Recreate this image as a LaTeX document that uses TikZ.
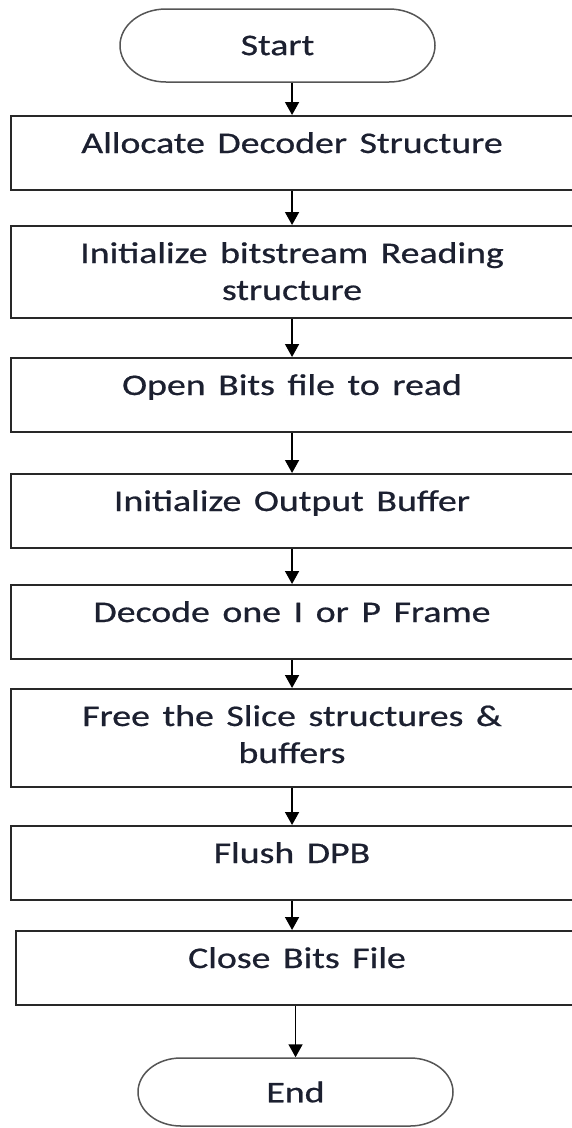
\documentclass[tikz,border=0pt]{standalone}
\usepackage{fontspec}
\setmainfont{Carlito}[FakeBold=0.6]
\usetikzlibrary{shapes.misc,arrows.meta}
\definecolor{inkblue}{RGB}{28,32,48}
\definecolor{edgegray}{RGB}{40,40,40}
\definecolor{ovalgray}{RGB}{85,85,85}
\tikzset{
  stepbox/.style={draw=edgegray, line width=2pt, rectangle, inner xsep=0pt, inner ysep=0pt,
    text width=446pt, align=center, text height=37pt, text depth=37pt, anchor=base,
    text=inkblue, font=\fontsize{30}{37}\selectfont},
  termbox/.style={draw=ovalgray, line width=1.5pt, rounded rectangle, minimum width=250pt,
    minimum height=73pt, inner sep=0pt, text=inkblue, font=\fontsize{30}{37}\selectfont},
  flowarrow/.style={-{Triangle[width=14pt,length=13pt]}, line width=1.6pt},
}
\begin{document}
\begin{tikzpicture}[x=0.79365pt, y=1pt, xscale=1.26, transform shape]
\useasboundingbox (0,0) rectangle (571,-1128);
\node[termbox] (start) at (277.5,-45.5) {Start};
\node[stepbox] (alloc) at (292,-153) {Allocate Decoder Structure};
\node[stepbox, text depth=55pt] (initbs) at (292,-263) {Initialize bitstream Reading\\structure};
\node[stepbox] (openbits) at (292,-395) {Open Bits file to read};
\node[stepbox] (initout) at (292,-511) {Initialize Output Buffer};
\node[stepbox] (decode) at (292,-622) {Decode one I or P Frame};
\node[stepbox, text depth=61pt] (freeslice) at (292,-726) {Free the Slice structures \&\\buffers};
\node[stepbox] (flush) at (292,-863) {Flush DPB};
\node[stepbox] (closebits) at (297,-968) {Close Bits File};
\node[termbox, minimum height=68pt] (ende) at (295.5,-1092) {End};
\draw[flowarrow] (start.south -| alloc.north) -- (alloc.north);
\draw[flowarrow] (alloc.south) -- (initbs.north);
\draw[flowarrow] (initbs.south) -- (openbits.north);
\draw[flowarrow] (openbits.south) -- (initout.north);
\draw[flowarrow] (initout.south) -- (decode.north);
\draw[flowarrow] (decode.south) -- (freeslice.north);
\draw[flowarrow] (freeslice.south) -- (flush.north);
\draw[flowarrow] (flush.south) -- (flush.south |- closebits.north);
\draw[flowarrow] (closebits.south -| ende.north) -- (ende.north);
\end{tikzpicture}
\end{document}
